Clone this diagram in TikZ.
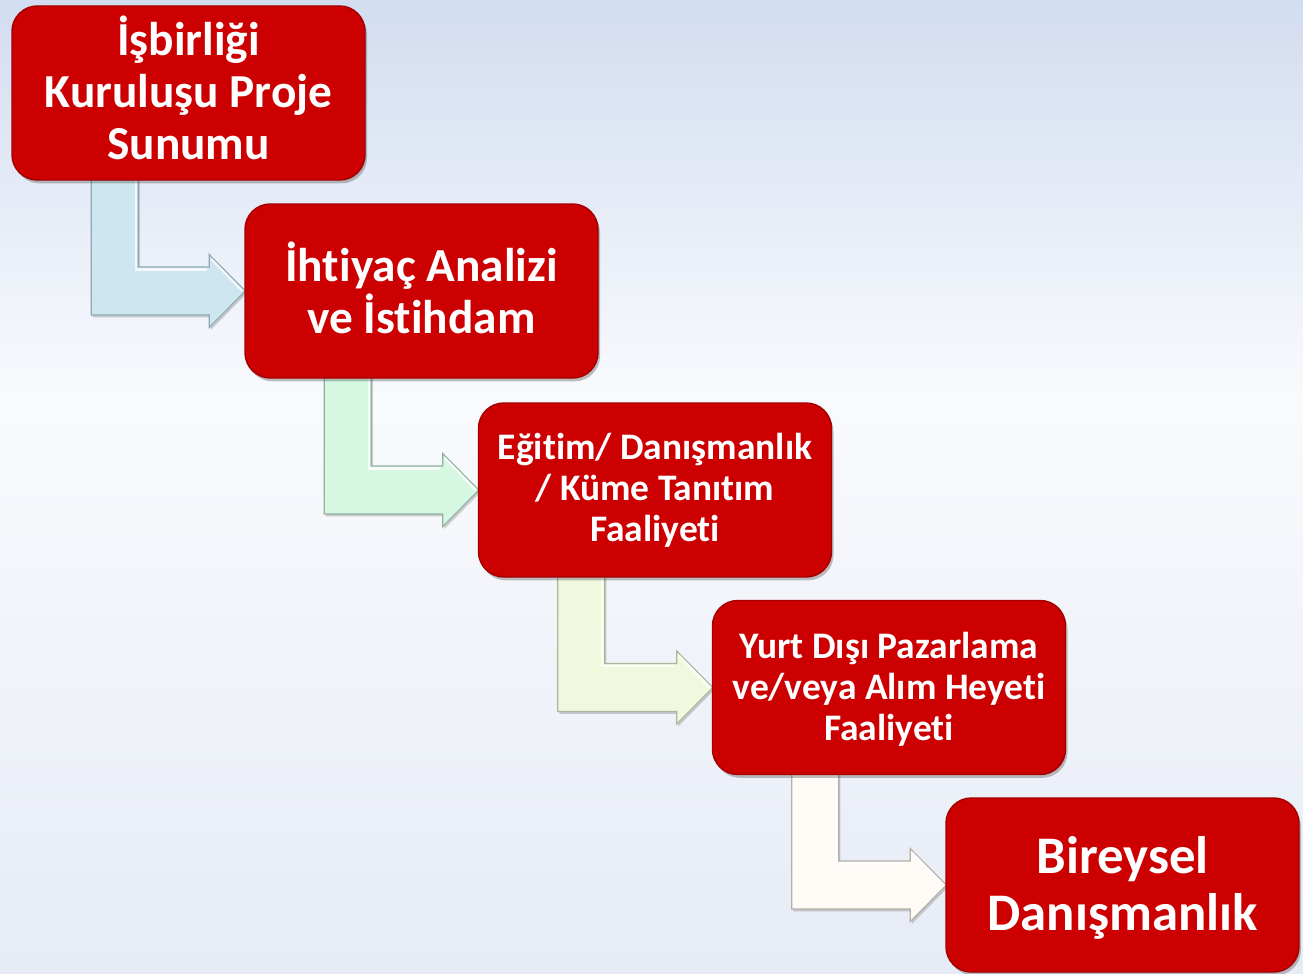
\documentclass[tikz,border=0pt]{standalone}
\usepackage{fontspec}
\setmainfont[RawFeature={-liga;-clig;-dlig}]{Carlito}
\usetikzlibrary{calc,shadows}
\definecolor{bgtop}{HTML}{D2DDF0}
\definecolor{bgmid}{HTML}{F9FAFD}
\definecolor{bgbot}{HTML}{E6EBF5}
\definecolor{boxred}{HTML}{CC0000}
\definecolor{boxedge}{HTML}{A50000}
\definecolor{arA}{HTML}{CDE6F0}
\definecolor{arAe}{HTML}{8FA8B2}
\definecolor{arB}{HTML}{D6F8E3}
\definecolor{arBe}{HTML}{93AF9E}
\definecolor{arC}{HTML}{F0F9DE}
\definecolor{arCe}{HTML}{ACB69B}
\definecolor{arD}{HTML}{FFFCF8}
\definecolor{arDe}{HTML}{B5AFA8}
\pgfdeclarelayer{bglayer}
\pgfdeclarelayer{arrowlayer}
\pgfsetlayers{bglayer,arrowlayer,main}
\tikzset{
  stagebox/.style={draw=boxedge, line width=1.1pt, fill=boxred, rounded corners=19pt,
    minimum width=264.75pt, minimum height=130.5pt, inner sep=0pt,
    drop shadow={shadow xshift=1.5pt, shadow yshift=-2.5pt, opacity=0.35, fill=black!70}},
  stagetext/.style={align=center, text=white, inner sep=0pt},
  bigtext/.style={stagetext, font=\bfseries\fontsize{35.5}{39}\selectfont},
  midtext/.style={stagetext, font=\bfseries\fontsize{28.1}{30.8}\selectfont},
  hugetext/.style={stagetext, font=\bfseries\fontsize{39.6}{42.4}\selectfont},
  bentarrow/.style={line width=0.8pt, line join=miter,
    drop shadow={shadow xshift=1.2pt, shadow yshift=-1.8pt, opacity=0.3, fill=black!60}},
  bevel/.style={white, opacity=0.75, line width=1.6pt}
}
\newcommand\steparrow[4]{%
  \coordinate (tA) at ($(#1.south west)+(80,-4)$);
  \coordinate (tC) at (tA |- #2.west);
  \path[bentarrow, draw=#4, fill=#3]
    (tA) -- ($(tC)+(0,24)$) -- ($(#2.west)+(-35,24)$) -- ($(#2.west)+(-35,36.5)$)
    -- ($(#2.west)+(1,0)$) -- ($(#2.west)+(-35,-36.5)$) -- ($(#2.west)+(-35,-24)$)
    -- ($(tC)+(47,-24)$) -- ($(tA)+(47,0)$) -- cycle;
  \draw[bevel] ($(tA)+(44.5,2)$) -- ($(tC)+(44.5,-21.5)$) -- ($(#2.west)+(-37.5,-21.5)$);
  \draw[bevel] ($(#2.west)+(-33,-32)$) -- ($(#2.west)+(-2,0)$);
}
\begin{document}
\begin{tikzpicture}[x=0.75pt, y=-0.75pt]
  \useasboundingbox (0,0) rectangle (1303,974);
  \begin{pgfonlayer}{bglayer}
    \fill[top color=bgtop, bottom color=bgmid] (0,0) rectangle (1303,401);
    \fill[top color=bgmid, bottom color=bgbot] (0,400) rectangle (1303,974);
  \end{pgfonlayer}

  \node[stagebox] (s1) at (188.5,93) {};
  \node[stagebox] (s2) at (421.5,291) {};
  \node[stagebox] (s3) at (655,490) {};
  \node[stagebox] (s4) at (889,687.5) {};
  \node[stagebox] (s5) at (1122.5,885) {};

  \node[bigtext] (t1) at ($(s1)+(0,-5)$) {İşbirliği\\Kuruluşu Proje\\Sunumu};
  \node[bigtext] (t2) at ($(s2)+(0,-3.5)$) {İhtiyaç Analizi\\ve İstihdam};
  \node[midtext] (t3) at ($(s3)+(0,0.5)$) {Eğitim/ Danışmanlık\\/ Küme Tanıtım\\Faaliyeti};
  \node[midtext] (t4) at ($(s4)+(0,1.5)$) {Yurt Dışı Pazarlama\\ve/veya Alım Heyeti\\Faaliyeti};
  \node[hugetext] (t5) at ($(s5)+(0,3)$) {Bireysel\\Danışmanlık};

  \begin{pgfonlayer}{arrowlayer}
    \steparrow{s1}{s2}{arA}{arAe}
    \steparrow{s2}{s3}{arB}{arBe}
    \steparrow{s3}{s4}{arC}{arCe}
    \steparrow{s4}{s5}{arD}{arDe}
  \end{pgfonlayer}
\end{tikzpicture}
\end{document}
